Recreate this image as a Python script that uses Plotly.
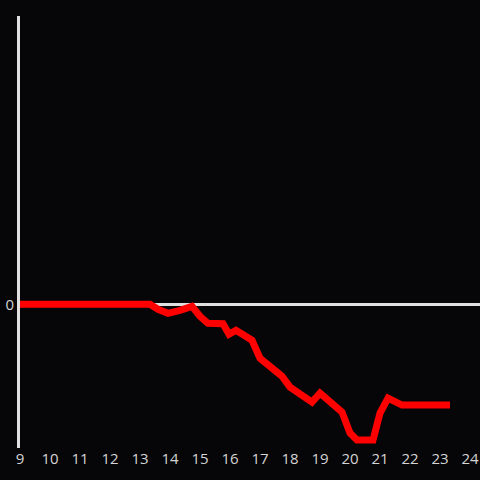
import plotly.graph_objects as go

hours = [9.0, 13.333, 13.6, 13.933, 14.333, 14.733, 15.0, 15.267, 15.767, 15.967,
         16.2, 16.733, 17.0, 17.267, 17.733, 18.0, 18.267, 18.733, 19.0, 19.333,
         19.733, 20.0, 20.233, 20.767, 21.0, 21.267, 21.733, 23.333]
values = [0.0, 0.0, -0.5, -0.9, -0.6, -0.2, -1.2, -1.9, -1.95, -3.0,
          -2.6, -3.6, -5.4, -6.1, -7.2, -8.3, -8.8, -9.8, -8.9, -9.7,
          -10.8, -12.9, -13.6, -13.6, -10.9, -9.4, -10.1, -10.1]
x_ticks = list(range(9, 25))
y_ticks = [0]

fig = go.Figure(go.Scatter(x=hours, y=values, mode="lines",
                           line=dict(color="#ff0000", width=7)))
bg = "#060508"
fig.update_layout(
    width=480, height=480, autosize=False,
    paper_bgcolor=bg, plot_bgcolor=bg,
    margin=dict(l=20, r=0, t=16, b=32),
    showlegend=False,
    font=dict(family="Open Sans", size=15, color="#d4d4d4"),
    xaxis=dict(range=[9, 24.333], tickvals=x_ticks, ticktext=[str(t) for t in x_ticks],
               showgrid=False, zeroline=False, showline=False, ticks="", automargin=False),
    yaxis=dict(range=[-14.4, 28.9], tickvals=y_ticks, ticktext=["0"],
               showgrid=False, zeroline=True, zerolinecolor="#e0e0e0", zerolinewidth=3,
               showline=True, linecolor="#e0e0e0", linewidth=3, ticks="", automargin=False,
               ticklabelstandoff=0),
)
fig.write_html("out.html", default_width="480px", default_height="480px",
               config={"displayModeBar": False},
               post_script="document.body.style.margin='0';document.body.style.background='%s';" % bg)
